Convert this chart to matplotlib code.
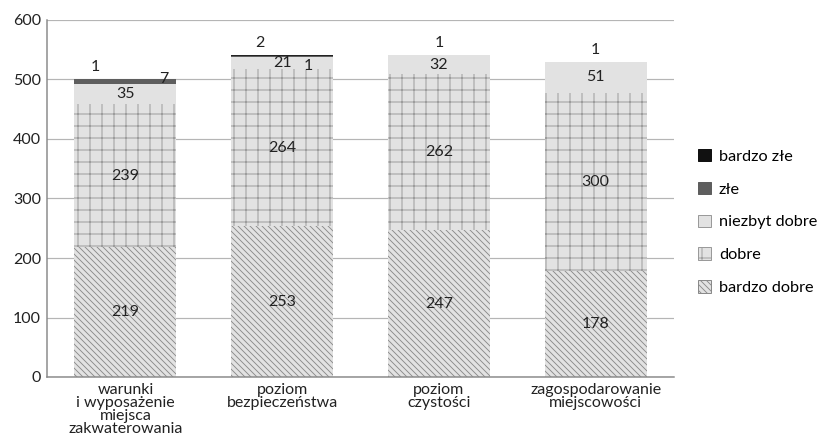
import matplotlib
matplotlib.use("Agg")
import matplotlib.pyplot as plt
import numpy as np
from matplotlib.patches import Patch

# data
categories = [
    "warunki\ni wyposażenie\nmiejsca\nzakwaterowania",
    "poziom\nbezpieczeństwa",
    "poziom\nczystości",
    "zagospodarowanie\nmiejscowości",
]
bardzo_dobre = [219, 253, 247, 178]
dobre = [239, 264, 262, 300]
niezbyt_dobre = [35, 21, 32, 51]
zle = [7, 1, 0, 0]
bardzo_zle = [1, 2, 1, 1]
y_ticks = [0, 100, 200, 300, 400, 500, 600]

# label offsets (points) for the tiny top segments
zle_offsets = [(38, 0), (26, -10), None, None]
bz_offsets = [(-30, 12), (-22, 12), (0, 12), (0, 12)]

plt.rcParams["font.family"] = ["Lato", "DejaVu Sans"]
plt.rcParams["hatch.linewidth"] = 0.9

fig = plt.figure(figsize=(827 / 72, 448 / 72), dpi=72)
ax = fig.add_axes([47 / 827, 71 / 448, (674 - 47) / 827, (377 - 20) / 448])

x = np.arange(len(categories))
width = 0.65
fill = "#e2e2e2"

bottom = np.zeros(len(x))
b1 = ax.bar(x, bardzo_dobre, width, bottom=bottom, color=fill, edgecolor="#8a8a8a",
            hatch="\\\\\\\\", linewidth=0, zorder=2)
bottom += bardzo_dobre
b2 = ax.bar(x, dobre, width, bottom=bottom, color=fill, edgecolor="#959595",
            hatch="+", linewidth=0, zorder=2)
bottom += dobre
b3 = ax.bar(x, niezbyt_dobre, width, bottom=bottom, color=fill, linewidth=0, zorder=2)
bottom += niezbyt_dobre
b4 = ax.bar(x, zle, width, bottom=bottom, color="#5e5e5e", linewidth=0, zorder=2)
bottom += zle
b5 = ax.bar(x, bardzo_zle, width, bottom=bottom, color="#222222", linewidth=0, zorder=2)
bottom += bardzo_zle

fs = 16
for bars, vals in [(b1, bardzo_dobre), (b2, dobre), (b3, niezbyt_dobre)]:
    for rect, v in zip(bars, vals):
        ax.text(rect.get_x() + rect.get_width() / 2, rect.get_y() + rect.get_height() / 2,
                str(v), ha="center", va="center", fontsize=fs, color="#222222", zorder=4)

for rect, v, off in zip(b4, zle, zle_offsets):
    if off is None:
        continue
    ax.annotate(str(v), (rect.get_x() + rect.get_width() / 2, rect.get_y() + rect.get_height()),
                xytext=off, textcoords="offset points", ha="center", va="center",
                fontsize=fs, color="#222222", zorder=4)

for rect, v, off in zip(b5, bardzo_zle, bz_offsets):
    ax.annotate(str(v), (rect.get_x() + rect.get_width() / 2, rect.get_y() + rect.get_height()),
                xytext=off, textcoords="offset points", ha="center", va="center",
                fontsize=fs, color="#222222", zorder=4)

ax.set_xlim(-0.5, len(x) - 0.5)
ax.set_ylim(0, 600)
ax.set_yticks(y_ticks)
ax.tick_params(axis="y", length=0, labelsize=fs, pad=6, colors="#222222")
ax.set_xticks(x)
ax.set_xticklabels(categories, fontsize=fs, linespacing=0.9, color="#222222")
ax.tick_params(axis="x", length=0, pad=6)
ax.yaxis.grid(True, color="#b5b5b5", linewidth=1.2)
ax.set_axisbelow(True)
for side in ["top", "right"]:
    ax.spines[side].set_visible(False)
for side in ["left", "bottom"]:
    ax.spines[side].set_color("#8a8a8a")
    ax.spines[side].set_linewidth(1.5)

handles = [
    Patch(facecolor="#111111", edgecolor="#111111", label="bardzo złe"),
    Patch(facecolor="#5e5e5e", edgecolor="#5e5e5e", label="złe"),
    Patch(facecolor=fill, edgecolor="#9a9a9a", label="niezbyt dobre"),
    Patch(facecolor=fill, edgecolor="#9a9a9a", hatch="+", label="dobre"),
    Patch(facecolor=fill, edgecolor="#8a8a8a", hatch="\\\\\\\\", label="bardzo dobre"),
]
fig.legend(handles=handles, loc="center left", bbox_to_anchor=(683 / 827, 1 - 222 / 448),
           frameon=False, fontsize=16.3, handlelength=0.8, handleheight=0.8,
           labelspacing=1.1, handletextpad=0.5)

fig.savefig("out.png", dpi=72)
